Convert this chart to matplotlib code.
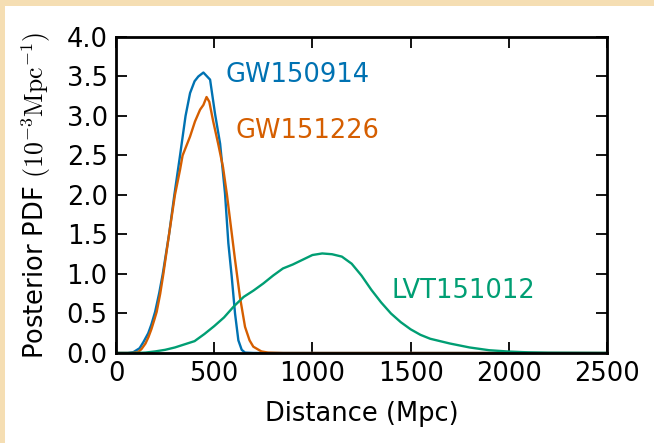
import matplotlib
matplotlib.use('Agg')
import matplotlib.pyplot as plt
from matplotlib.patches import Rectangle

# ---- data (distance in Mpc, PDF in 1e-3 / Mpc) ----
d_gw150914 = [0, 60, 88, 120, 140, 164, 180, 199, 220, 238, 270, 297, 326, 354, 377, 400,
              419, 445, 479, 504, 530, 555, 572, 589, 606, 623, 640, 657, 700, 2500]
p_gw150914 = [0, 0, 0.01, 0.06, 0.14, 0.25, 0.36, 0.52, 0.76, 1.0, 1.5, 2.0, 2.5, 3.0, 3.29, 3.44,
              3.5, 3.55, 3.46, 3.03, 2.65, 2.02, 1.39, 0.97, 0.50, 0.16, 0.04, 0.005, 0, 0]

d_gw151226 = [0, 80, 112, 130, 150, 165, 180, 195, 207, 225, 241, 270, 300, 326, 339, 377, 402,
              428, 445, 461, 475, 495, 520, 545, 565, 585, 606, 631, 657, 680, 699, 740, 774,
              850, 2500]
p_gw151226 = [0, 0, 0.01, 0.05, 0.12, 0.2, 0.3, 0.42, 0.52, 0.75, 1.0, 1.5, 2.0, 2.32, 2.5, 2.74,
              2.93, 3.08, 3.14, 3.24, 3.18, 2.93, 2.65, 2.35, 2.0, 1.6, 1.18, 0.71, 0.33, 0.16,
              0.08, 0.02, 0.005, 0, 0]

d_lvt151012 = [0, 100, 150, 200, 250, 300, 350, 400, 450, 500, 550, 600, 650, 700, 750,
               800, 850, 900, 950, 1000, 1050, 1100, 1150, 1200, 1250, 1300, 1350, 1400,
               1450, 1500, 1550, 1600, 1700, 1800, 1900, 2000, 2100, 2200, 2500]
p_lvt151012 = [0, 0, 0.005, 0.02, 0.04, 0.07, 0.11, 0.15, 0.24, 0.34, 0.45, 0.59, 0.71, 0.79, 0.88,
               0.98, 1.07, 1.12, 1.18, 1.24, 1.26, 1.25, 1.22, 1.13, 0.98, 0.80, 0.64, 0.50,
               0.39, 0.30, 0.23, 0.18, 0.12, 0.07, 0.035, 0.018, 0.008, 0.003, 0]

COLORS = {
    'GW150914': '#0072B2',
    'GW151226': '#D55E00',
    'LVT151012': '#009E73',
}

plt.rcParams['font.family'] = 'DejaVu Sans'
plt.rcParams['font.size'] = 18.5
plt.rcParams['mathtext.fontset'] = 'cm'
plt.rcParams['xtick.direction'] = 'in'
plt.rcParams['ytick.direction'] = 'in'
plt.rcParams['xtick.top'] = True
plt.rcParams['ytick.right'] = True

fig = plt.figure(figsize=(6.54, 4.43), dpi=100)
ax = fig.add_axes([0.1774, 0.2032, 0.7507, 0.7133])

# beige strip along top and left edge of the figure
fig.add_artist(Rectangle((0, 1 - 6 / 443), 1, 6 / 443, transform=fig.transFigure,
                         color='#F5DEB3', lw=0))
fig.add_artist(Rectangle((0, 0), 5 / 654, 1, transform=fig.transFigure,
                         color='#F5DEB3', lw=0))

ax.plot(d_gw150914, p_gw150914, color=COLORS['GW150914'], lw=1.7)
ax.plot(d_gw151226, p_gw151226, color=COLORS['GW151226'], lw=1.7)
ax.plot(d_lvt151012, p_lvt151012, color=COLORS['LVT151012'], lw=1.7)

ax.text(555, 3.52, 'GW150914', color=COLORS['GW150914'], va='center', ha='left')
ax.text(606, 2.81, 'GW151226', color=COLORS['GW151226'], va='center', ha='left')
ax.text(1405, 0.785, 'LVT151012', color=COLORS['LVT151012'], va='center', ha='left')

ax.set_xlim(0, 2500)
ax.set_ylim(0, 4.0)
ax.set_xticks([0, 500, 1000, 1500, 2000, 2500])
ax.set_yticks([0.0, 0.5, 1.0, 1.5, 2.0, 2.5, 3.0, 3.5, 4.0])
ax.set_yticklabels(['0.0', '0.5', '1.0', '1.5', '2.0', '2.5', '3.0', '3.5', '4.0'])
ax.tick_params(length=8, width=1.3, pad=6)
for s in ax.spines.values():
    s.set_linewidth(2.0)

ax.set_xlabel('Distance (Mpc)', labelpad=10)
ax.set_ylabel(r'Posterior PDF $(10^{-3}\mathrm{Mpc}^{-1})$', labelpad=10)

plt.savefig('out.png', dpi=100)
